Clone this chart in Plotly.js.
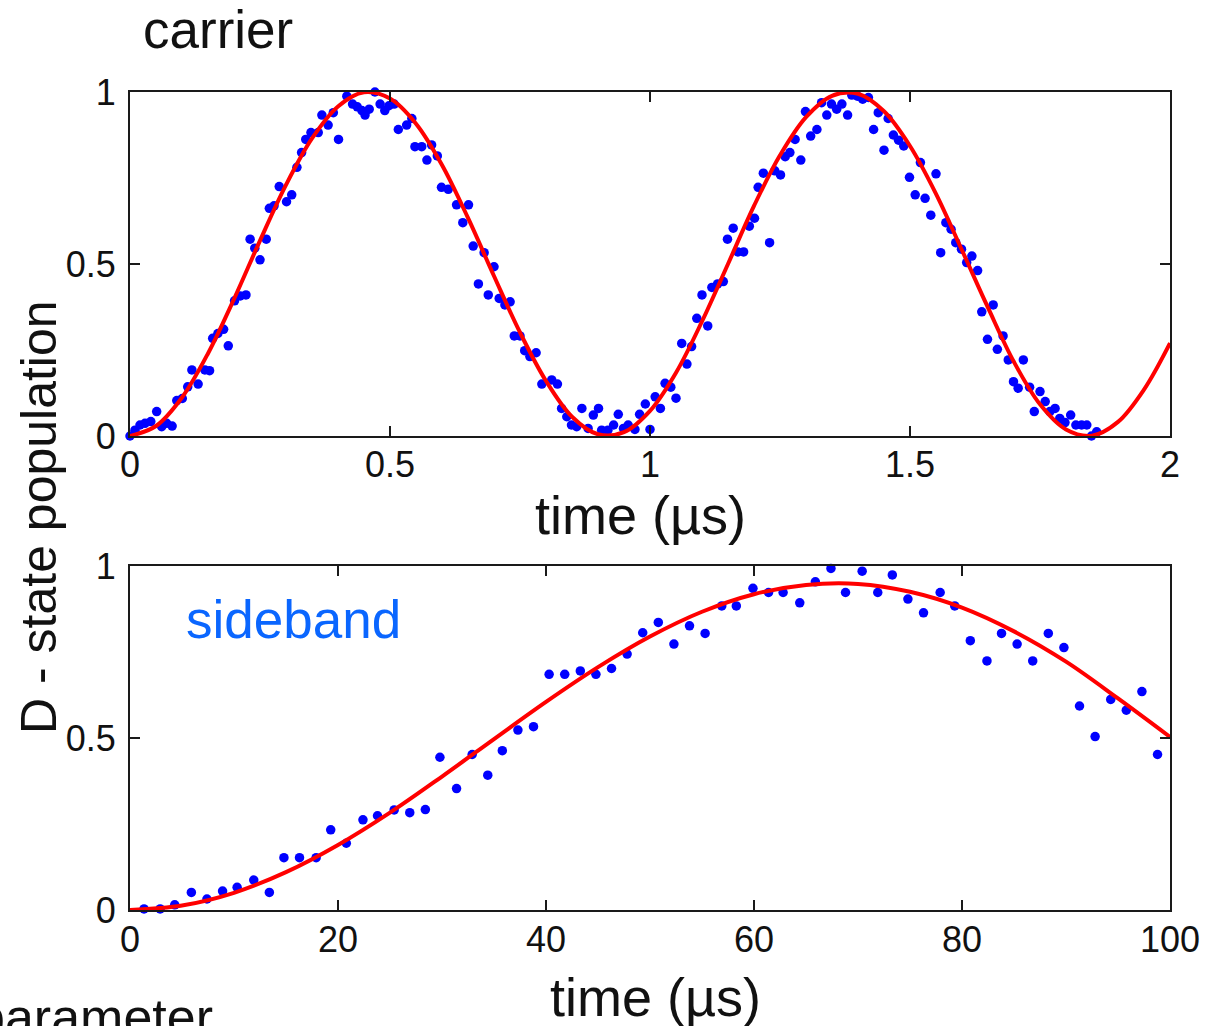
<!DOCTYPE html>
<html>
<head>
<meta charset="utf-8">
<script src="https://cdn.plot.ly/plotly-3.0.1.min.js"></script>
<style>
  html, body { margin: 0; padding: 0; background: #ffffff; }
  #chart { width: 1218px; height: 1026px; }
</style>
</head>
<body>
<div id="chart"></div>
<script>
// ---- Carrier (top panel): measured D-state population vs time (µs)
const carrierTime = [
  0, 0.0096, 0.0192, 0.0288, 0.040, 0.0513, 0.0609, 0.0705, 0.081, 0.090, 0.1006, 0.111, 0.119, 0.131, 0.144, 0.153, 0.159, 0.169, 0.180, 0.189,
  0.201, 0.212, 0.223, 0.231, 0.240, 0.250, 0.262, 0.268, 0.277, 0.287, 0.301, 0.311, 0.321, 0.330, 0.338, 0.348, 0.362, 0.369, 0.381, 0.391,
  0.401, 0.417, 0.428, 0.437, 0.446, 0.452, 0.460, 0.471, 0.481, 0.490, 0.498, 0.508, 0.516,
  0.532, 0.542, 0.548, 0.561, 0.571, 0.580, 0.591, 0.599, 0.612, 0.628, 0.640, 0.651, 0.660, 0.670, 0.681, 0.689, 0.700, 0.710, 0.721, 0.731,
  0.739, 0.750, 0.759, 0.769, 0.781, 0.792, 0.811, 0.822, 0.830, 0.840, 0.849, 0.859, 0.869, 0.881, 0.891, 0.901, 0.907, 0.919, 0.930, 0.939,
  0.949, 0.958, 0.971, 0.980, 0.991, 1.000, 1.010,
  1.020, 1.029, 1.040, 1.050, 1.061, 1.071, 1.080, 1.090, 1.100, 1.111, 1.119, 1.130, 1.141, 1.149, 1.160, 1.169, 1.180, 1.191, 1.201, 1.208,
  1.218, 1.230, 1.240, 1.251, 1.260, 1.269, 1.279, 1.290, 1.299, 1.309, 1.321, 1.330, 1.340, 1.349, 1.359, 1.369, 1.380, 1.388, 1.399, 1.409,
  1.420, 1.430, 1.439, 1.450, 1.458, 1.468, 1.478, 1.488, 1.499, 1.510,
  1.520, 1.529, 1.540, 1.550, 1.559, 1.569, 1.579, 1.588, 1.599, 1.609, 1.619, 1.630, 1.638, 1.649, 1.660, 1.668, 1.679, 1.689, 1.699, 1.708,
  1.718, 1.730, 1.739, 1.750, 1.760, 1.769, 1.779, 1.788, 1.798, 1.809, 1.819, 1.830, 1.840, 1.849, 1.859
];
const carrierPop = [
  0, 0.017, 0.032, 0.037, 0.042, 0.071, 0.027, 0.037, 0.029, 0.103, 0.109, 0.143, 0.192, 0.151, 0.192, 0.190, 0.284, 0.298, 0.310, 0.262,
  0.393, 0.407, 0.410, 0.572, 0.546, 0.512, 0.572, 0.662, 0.669, 0.725, 0.681, 0.701, 0.781, 0.824, 0.862, 0.882, 0.882, 0.933, 0.904, 0.940,
  0.862, 0.988, 0.965, 0.957, 0.946, 0.933, 0.950, 1.0, 0.965, 0.946, 0.960, 0.965, 0.891,
  0.904, 0.923, 0.841, 0.841, 0.802, 0.846, 0.814, 0.723, 0.717, 0.672, 0.620, 0.672, 0.552, 0.442, 0.533, 0.410, 0.492, 0.400, 0.381, 0.390,
  0.291, 0.291, 0.248, 0.231, 0.242, 0.151, 0.163, 0.151, 0.080, 0.056, 0.032, 0.027, 0.080, 0.022, 0.061, 0.080, 0.017, 0.017, 0.032, 0.063,
  0.022, 0.032, 0.019, 0.063, 0.093, 0.019, 0.114,
  0.080, 0.153, 0.142, 0.110, 0.269, 0.209, 0.260, 0.342, 0.410, 0.320, 0.432, 0.442, 0.449, 0.572, 0.604, 0.535, 0.535, 0.610, 0.633, 0.723,
  0.764, 0.562, 0.771, 0.759, 0.812, 0.824, 0.862, 0.802, 0.943, 0.872, 0.891, 0.969, 0.933, 0.965, 0.950, 0.965, 0.933, 0.991, 0.988, 0.979,
  0.984, 0.891, 0.940, 0.831, 0.923, 0.875, 0.860, 0.843, 0.752, 0.701,
  0.795, 0.691, 0.642, 0.762, 0.533, 0.620, 0.601, 0.562, 0.543, 0.504, 0.523, 0.481, 0.361, 0.281, 0.381, 0.252, 0.291, 0.221, 0.158, 0.139,
  0.221, 0.142, 0.071, 0.129, 0.100, 0.071, 0.080, 0.051, 0.039, 0.061, 0.032, 0.032, 0.032, 0, 0.012
];
// Carrier fit curve (red), every 0.05 µs
const carrierFitTime = [
  0, 0.05, 0.10, 0.15, 0.20, 0.25, 0.30, 0.35, 0.40, 0.45, 0.50, 0.55, 0.60, 0.65, 0.70, 0.75, 0.80, 0.85, 0.90, 0.95,
  1.00, 1.05, 1.10, 1.15, 1.20, 1.25, 1.30, 1.35, 1.40, 1.45, 1.50, 1.55, 1.60, 1.65, 1.70, 1.75, 1.80, 1.85, 1.90, 1.95, 2.00
];
const carrierFitPop = [
  0, 0.029, 0.112, 0.240, 0.398, 0.568, 0.730, 0.865, 0.958, 0.999, 0.981, 0.908, 0.788, 0.634, 0.465, 0.301, 0.160, 0.056, 0.005, 0.011,
  0.073, 0.184, 0.333, 0.500, 0.669, 0.816, 0.927, 0.989, 0.995, 0.944, 0.843, 0.704, 0.540, 0.373, 0.215, 0.092, 0.019, 0.001, 0.041, 0.135, 0.270
];

// ---- Sideband (bottom panel)
const sidebandTime = [
  1.35, 2.9, 4.3, 5.9, 7.4, 8.9, 10.3, 11.9, 13.4, 14.8, 16.3, 17.9, 19.3, 20.8, 22.4, 23.8, 25.4, 26.9, 28.4, 29.8,
  31.4, 32.9, 34.4, 35.8, 37.3, 38.8, 40.3, 41.8, 43.3, 44.8, 46.3, 47.8, 49.3, 50.8, 52.3, 53.8, 55.3, 56.9, 58.3, 59.9,
  61.4, 62.8, 64.4, 65.9, 67.4, 68.8, 70.4, 71.9, 73.3, 74.8, 76.3, 77.9, 79.3, 80.8, 82.4, 83.8, 85.3, 86.8, 88.3, 89.8,
  91.3, 92.8, 94.3, 95.8, 97.3, 98.8
];
const sidebandPop = [
  0.003, 0.003, 0.015, 0.051, 0.032, 0.055, 0.066, 0.087, 0.051, 0.152, 0.152, 0.152, 0.233, 0.194, 0.262, 0.274, 0.291, 0.283, 0.292, 0.444,
  0.353, 0.452, 0.392, 0.463, 0.523, 0.533, 0.685, 0.685, 0.695, 0.685, 0.702, 0.744, 0.806, 0.836, 0.773, 0.826, 0.804, 0.884, 0.884, 0.935,
  0.923, 0.923, 0.893, 0.954, 0.993, 0.923, 0.985, 0.923, 0.974, 0.904, 0.864, 0.923, 0.884, 0.783, 0.724, 0.804, 0.773, 0.724, 0.804, 0.763,
  0.593, 0.504, 0.612, 0.581, 0.635, 0.452
];
const sidebandFitTime = [0, 5, 10, 15, 20, 25, 30, 35, 40, 45, 50, 55, 60, 65, 70, 75, 80, 85, 90, 95, 100];
const sidebandFitPop = [0, 0.013, 0.050, 0.110, 0.189, 0.283, 0.388, 0.497, 0.605, 0.706, 0.795, 0.867, 0.918, 0.945, 0.948, 0.925, 0.879, 0.810, 0.722, 0.615, 0.503];

// ---- Tick labels
const topTickVals = [0, 0.5, 1, 1.5, 2];
const topTickText = ['0', '0.5', '1', '1.5', '2'];
const bottomTickVals = [0, 20, 40, 60, 80, 100];
const bottomTickText = ['0', '20', '40', '60', '80', '100'];
const yTickVals = [0, 0.5, 1];
const yTickText = ['0', '0.5', '1'];

const W = 1218, H = 1026;
const px = v => v / W;
const py = v => 1 - v / H;

const FONT = 'Liberation Sans, Arial, Helvetica, sans-serif';
const BLUE = '#0000ff';
const RED = '#ff0000';

const traces = [
  { x: carrierTime, y: carrierPop, xaxis: 'x', yaxis: 'y', type: 'scatter', mode: 'markers',
    marker: { color: BLUE, size: 9.5 }, cliponaxis: false, showlegend: false, name: 'carrier data' },
  { x: carrierFitTime, y: carrierFitPop, xaxis: 'x', yaxis: 'y', type: 'scatter', mode: 'lines',
    line: { color: RED, width: 4, shape: 'spline', smoothing: 1 }, showlegend: false, name: 'carrier fit' },
  { x: sidebandTime, y: sidebandPop, xaxis: 'x2', yaxis: 'y2', type: 'scatter', mode: 'markers',
    marker: { color: BLUE, size: 9.5 }, cliponaxis: false, showlegend: false, name: 'sideband data' },
  { x: sidebandFitTime, y: sidebandFitPop, xaxis: 'x2', yaxis: 'y2', type: 'scatter', mode: 'lines',
    line: { color: RED, width: 4, shape: 'spline', smoothing: 1 }, showlegend: false, name: 'sideband fit' }
];

const axisCommon = {
  showgrid: false, zeroline: false, showline: true, linecolor: '#1a1a1a', linewidth: 2,
  mirror: 'ticks', ticks: 'inside', ticklen: 10, tickwidth: 2, tickcolor: '#1a1a1a',
  tickfont: { family: FONT, size: 36, color: '#111' }, fixedrange: true
};

const layout = {
  width: W, height: H,
  margin: { l: 0, r: 0, t: 0, b: 0 },
  paper_bgcolor: '#ffffff', plot_bgcolor: '#ffffff',
  font: { family: FONT, color: '#111' },
  showlegend: false,
  xaxis: Object.assign({}, axisCommon, {
    domain: [px(130), px(1170)], anchor: 'y', range: [0, 2],
    tickmode: 'array', tickvals: topTickVals, ticktext: topTickText, ticklabelstandoff: -4
  }),
  yaxis: Object.assign({}, axisCommon, {
    domain: [py(436), py(92)], anchor: 'x', range: [0, 1],
    tickmode: 'array', tickvals: yTickVals, ticktext: yTickText, ticklabelstandoff: 5
  }),
  xaxis2: Object.assign({}, axisCommon, {
    domain: [px(130), px(1170)], anchor: 'y2', range: [0, 100],
    tickmode: 'array', tickvals: bottomTickVals, ticktext: bottomTickText, ticklabelstandoff: -3
  }),
  yaxis2: Object.assign({}, axisCommon, {
    domain: [py(910), py(566)], anchor: 'x2', range: [0, 1],
    tickmode: 'array', tickvals: yTickVals, ticktext: yTickText, ticklabelstandoff: 5
  }),
  annotations: [
    { text: 'time (µs)', xref: 'paper', yref: 'paper', x: px(640), y: py(515),
      xanchor: 'center', yanchor: 'middle', showarrow: false,
      font: { family: FONT, size: 54, color: '#111' } },
    { text: 'time (µs)', xref: 'paper', yref: 'paper', x: px(655), y: py(997),
      xanchor: 'center', yanchor: 'middle', showarrow: false,
      font: { family: FONT, size: 54, color: '#111' } },
    { text: 'D - state population', xref: 'paper', yref: 'paper', x: px(39), y: py(517),
      xanchor: 'center', yanchor: 'middle', textangle: -90, showarrow: false,
      font: { family: FONT, size: 50, color: '#111' } },
    { text: 'carrier', xref: 'paper', yref: 'paper', x: px(218), y: py(29),
      xanchor: 'center', yanchor: 'middle', showarrow: false,
      font: { family: FONT, size: 53, color: '#111' } },
    { text: 'sideband', xref: 'paper', yref: 'paper', x: px(293), y: py(619),
      xanchor: 'center', yanchor: 'middle', showarrow: false,
      font: { family: FONT, size: 53, color: '#0a66ff' } },
    { text: 'parameter', xref: 'paper', yref: 'paper', x: px(-26), y: py(1017),
      xanchor: 'left', yanchor: 'middle', showarrow: false,
      font: { family: FONT, size: 52, color: '#111' } }
  ]
};

Plotly.newPlot('chart', traces, layout, { displayModeBar: false, staticPlot: true });
</script>
</body>
</html>
